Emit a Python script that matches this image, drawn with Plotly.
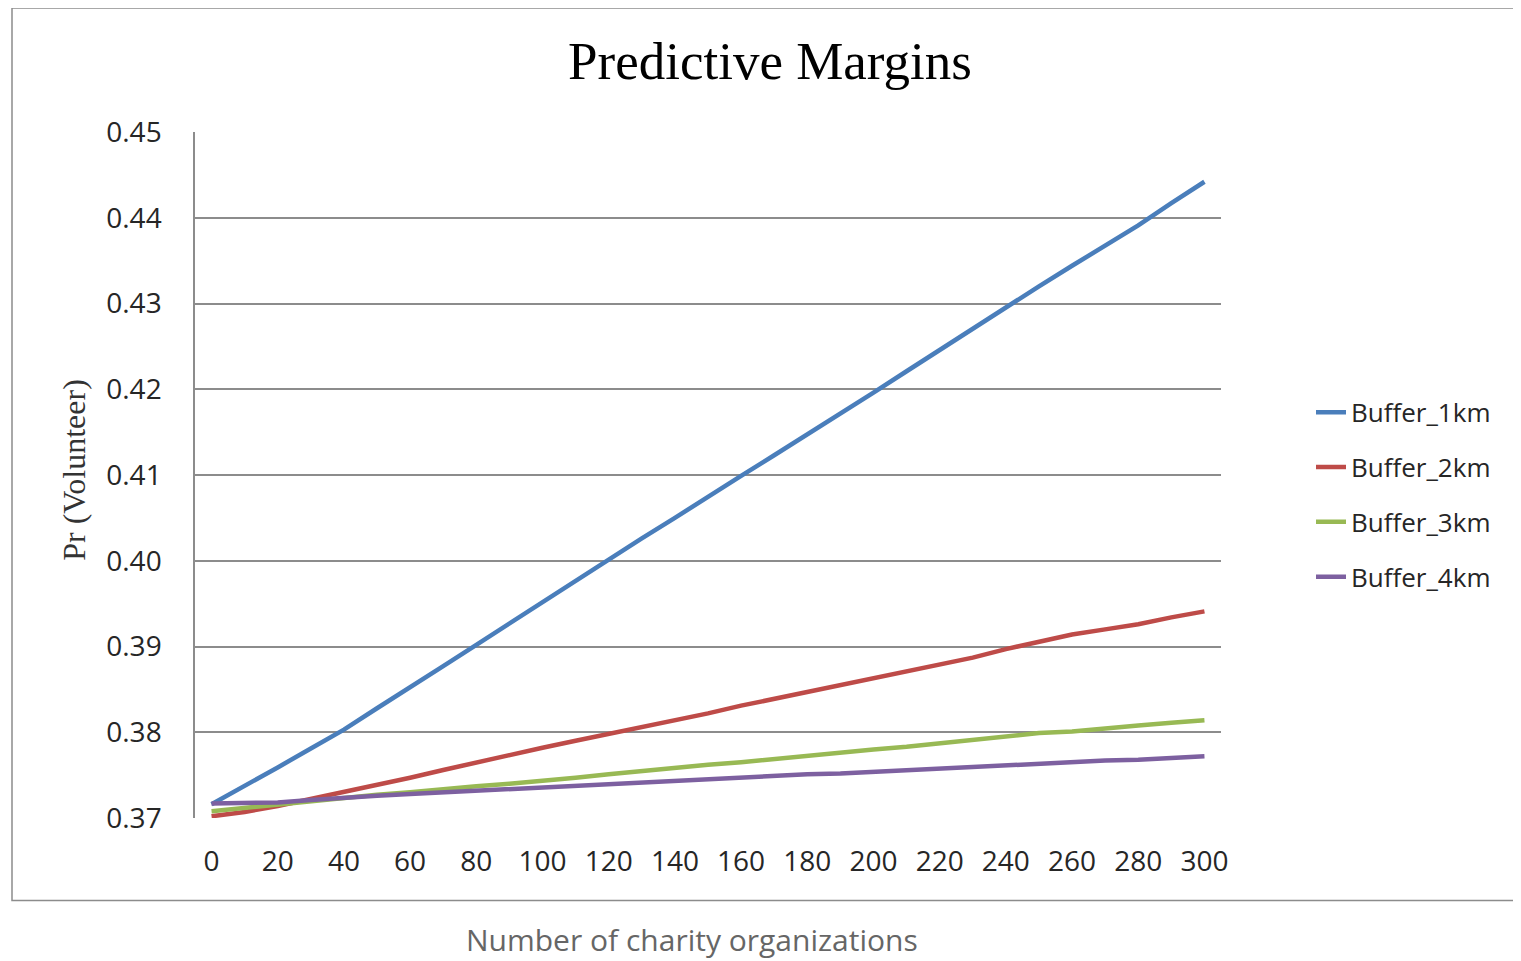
import plotly.graph_objects as go

x_vals = [0, 10, 20, 30, 40, 50, 60, 70, 80, 90, 100, 110, 120, 130, 140, 150,
          160, 170, 180, 190, 200, 210, 220, 230, 240, 250, 260, 270, 280, 290, 300]

buffer_1km = [0.3716, 0.3737, 0.3759, 0.3781, 0.3803, 0.3828, 0.3852, 0.3877, 0.3902, 0.3927,
              0.3952, 0.3976, 0.4002, 0.4026, 0.4050, 0.4075, 0.4099, 0.4123, 0.4147, 0.4172,
              0.4196, 0.4221, 0.4246, 0.4271, 0.4296, 0.4320, 0.4344, 0.4368, 0.4391, 0.4417, 0.4442]
buffer_2km = [0.3702, 0.3707, 0.3714, 0.3722, 0.3730, 0.3739, 0.3747, 0.3756, 0.3765, 0.3774,
              0.3782, 0.3790, 0.3798, 0.3806, 0.3813, 0.3822, 0.3831, 0.3839, 0.3846, 0.3854,
              0.3862, 0.3870, 0.3878, 0.3887, 0.3897, 0.3905, 0.3914, 0.3920, 0.3926, 0.3934, 0.3941]
buffer_3km = [0.3708, 0.3712, 0.3716, 0.3720, 0.3724, 0.3727, 0.3730, 0.3734, 0.3737, 0.3740,
              0.3743, 0.3747, 0.3751, 0.3755, 0.3759, 0.3762, 0.3765, 0.3769, 0.3772, 0.3776,
              0.3780, 0.3783, 0.3787, 0.3791, 0.3796, 0.3799, 0.3801, 0.3805, 0.3808, 0.3811, 0.3814]
buffer_4km = [0.3717, 0.3717, 0.3718, 0.3721, 0.3724, 0.3726, 0.3728, 0.3730, 0.3731, 0.3733,
              0.3735, 0.3738, 0.3740, 0.3741, 0.3743, 0.3745, 0.3747, 0.3749, 0.3751, 0.3752,
              0.3754, 0.3756, 0.3758, 0.3760, 0.3762, 0.3763, 0.3765, 0.3767, 0.3768, 0.3770, 0.3772]

series_names = ["Buffer_1km", "Buffer_2km", "Buffer_3km", "Buffer_4km"]
series_values = [buffer_1km, buffer_2km, buffer_3km, buffer_4km]
series_colors = ["#4A7EBB", "#BE4B48", "#98B954", "#7D60A0"]

x_ticks = [0, 20, 40, 60, 80, 100, 120, 140, 160, 180, 200, 220, 240, 260, 280, 300]
y_ticks = [0.37, 0.38, 0.39, 0.40, 0.41, 0.42, 0.43, 0.44, 0.45]

# the page body has an 8px margin; work in screen pixels and subtract it
OFF = 8
W, H = 1521 - OFF, 961 - OFF
L, R, T, B = 195 - OFF, 1221 - OFF, 132 - OFF, 818.4 - OFF

def px_x(p):
    return (p - OFF - L) / (R - L)

def px_y(p):
    return (B - (p - OFF)) / (B - T)

fig = go.Figure()
for i, (name, vals, col) in enumerate(zip(series_names, series_values, series_colors)):
    fig.add_trace(go.Scatter(
        x=x_vals, y=vals, mode="lines", name=name,
        legendgroup=f"g{i}",
        line=dict(color=col, width=4.5),
    ))

grid_col = "#8C8C8C"
tick_font = dict(family="Open Sans", size=28, color="#262626")

fig.update_layout(
    width=W, height=H,
    margin=dict(l=L, r=W - R, t=T, b=H - B, pad=0),
    paper_bgcolor="white", plot_bgcolor="white",
    title=dict(text="Predictive Margins", x=(770 - OFF) / W, xref="container",
               xanchor="center", y=1 - (60 - OFF) / H, yanchor="middle",
               font=dict(family="Liberation Serif", size=53, color="black")),
    showlegend=True,
    legend=dict(x=px_x(1311), xanchor="left", y=px_y(389), yanchor="top",
                font=dict(family="Open Sans", size=26, color="#262626"),
                traceorder="grouped", tracegroupgap=18,
                bgcolor="rgba(0,0,0,0)"),
    xaxis=dict(range=[-5, 305], tickvals=x_ticks, ticktext=[str(v) for v in x_ticks],
               showgrid=False, zeroline=False, showline=False,
               tickfont=tick_font, ticks="", ticklabelstandoff=24),
    yaxis=dict(range=[0.37, 0.45], tickvals=y_ticks,
               ticktext=[f"{v:.2f}" for v in y_ticks],
               showgrid=True, gridcolor=grid_col, gridwidth=1.5,
               zeroline=False, showline=True, linecolor=grid_col, linewidth=1.5,
               tickfont=tick_font, ticks="", ticklabelstandoff=26),
)

# outer chart frame
fig.add_shape(type="rect", xref="paper", yref="paper",
              x0=px_x(12), x1=px_x(1530), y0=px_y(901), y1=px_y(8),
              line=dict(color="#8C8C8C", width=1.5), layer="below")

# axis titles
fig.add_annotation(text="Pr (Volunteer)", xref="paper", yref="paper",
                   x=px_x(74), y=px_y(470), xanchor="center", yanchor="middle",
                   textangle=-90, showarrow=False,
                   font=dict(family="Liberation Serif", size=32, color="#333333"))
fig.add_annotation(text="Number of charity organizations", xref="paper", yref="paper",
                   x=px_x(692), y=px_y(940), xanchor="center", yanchor="middle",
                   showarrow=False,
                   font=dict(family="Open Sans", size=30, color="#666666"))

fig.write_html("out.html")
